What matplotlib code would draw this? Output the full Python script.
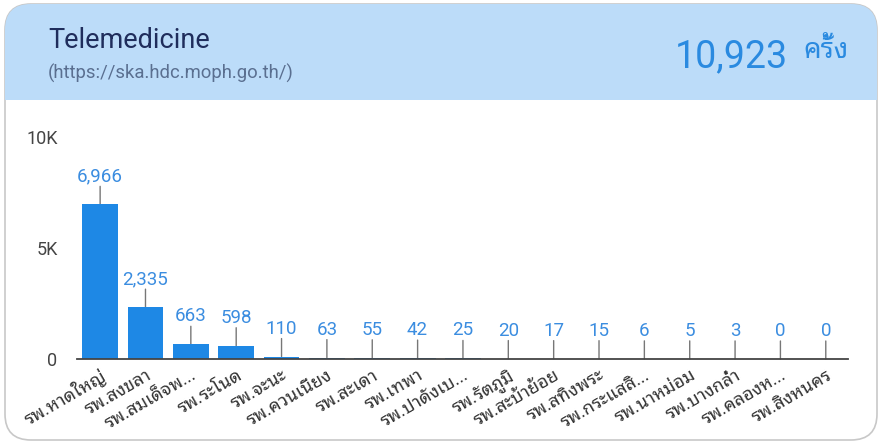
import matplotlib
matplotlib.use("Agg")
import matplotlib.pyplot as plt
from matplotlib.patches import FancyBboxPatch, Rectangle
from matplotlib.transforms import IdentityTransform

FAM = ['Roboto', 'Noto Sans Thai Looped', 'Sarabun', 'Noto Sans Thai', 'DejaVu Sans']
plt.rcParams['font.family'] = FAM

categories = ['รพ.หาดใหญ่', 'รพ.สงขลา', 'รพ.สมเด็จพ...', 'รพ.ระโนด', 'รพ.จะนะ',
              'รพ.ควนเนียง', 'รพ.สะเดา', 'รพ.เทพา', 'รพ.ปาดังเบ...', 'รพ.รัตภูมิ',
              'รพ.สะบ้าย้อย', 'รพ.สทิงพระ', 'รพ.กระแสสิ...', 'รพ.นาหม่อม',
              'รพ.บางกล่ำ', 'รพ.คลองห...', 'รพ.สิงหนคร']
values = [6966, 2335, 663, 598, 110, 63, 55, 42, 25, 20, 17, 15, 6, 5, 3, 0, 0]
yticks = [0, 5000, 10000]
yticklabels = ['0', '5K', '10K']
title = 'Telemedicine'
subtitle = '(https://ska.hdc.moph.go.th/)'
total_text = '10,923'
unit_text = 'ครั้ง'

W, H = 882, 443
fig = plt.figure(figsize=(W/100, H/100), dpi=100)

# card
card = FancyBboxPatch((5, 3), W-10, H-7, boxstyle="round,pad=0,rounding_size=26",
                      transform=IdentityTransform(), facecolor='white',
                      edgecolor='#c8c8c8', linewidth=1.2, zorder=-2)
fig.patches.append(card)
header = Rectangle((0, H-100), W, 100, transform=IdentityTransform(),
                   facecolor='#bcdcf9', edgecolor='none', zorder=-1)
header.set_clip_path(card)
fig.patches.append(header)

fig.text(48/W, 1-40/H, title, fontsize=19.5, color='#1f2d5c', va='center', ha='left')
fig.text(48/W, 1-73/H, subtitle, fontsize=13.3, color='#5a6f90', va='center', ha='left')
fig.text(788/W, 1-57/H, total_text, fontsize=27, color='#2a8ae0', va='center', ha='right')
fig.text(803/W, 1-50/H, unit_text, fontsize=20, color='#2a8ae0', va='center', ha='left')

ax = fig.add_axes([77/W, 1-359/H, (848-77)/W, (359-137)/H])
ax.set_facecolor('none')
x = list(range(len(values)))
ax.bar(x, values, width=0.79, color='#1e88e5', zorder=2)
ax.set_xlim(-0.51, len(values)-1+0.49)
ax.set_ylim(0, 10000)
ax.set_yticks(yticks)
ax.set_yticklabels(yticklabels, fontsize=13, color='#444444')
ax.set_xticks(x)
ax.set_xticklabels(categories, rotation=30, ha='right', rotation_mode='anchor',
                   fontsize=13, color='#333333')
ax.tick_params(axis='y', length=0, pad=14)
ax.tick_params(axis='x', length=0, pad=5)
for s in ['top', 'right', 'left']:
    ax.spines[s].set_visible(False)
ax.spines['bottom'].set_color('#444444')
ax.spines['bottom'].set_linewidth(1.3)
ax.spines['bottom'].set_zorder(3)

for xi, v in zip(x, values):
    ax.annotate('', xy=(xi, v), xytext=(0, 18*0.72), textcoords='offset points',
                arrowprops=dict(arrowstyle='-', color='#777777', lw=1,
                                shrinkA=0, shrinkB=0), zorder=1)
    ax.annotate(f'{v:,}', xy=(xi, v), xytext=(0, 19*0.72), textcoords='offset points',
                ha='center', va='bottom', fontsize=13.5, color='#3b8de0')

fig.savefig('out.png', dpi=100)
